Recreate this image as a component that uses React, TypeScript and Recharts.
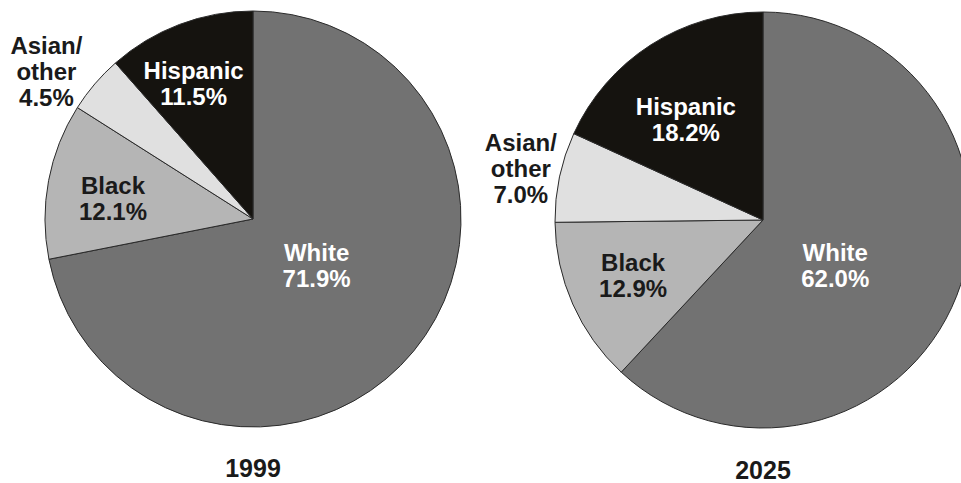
import React from 'react';
import { PieChart, Pie, Cell } from 'recharts';

// Population share by race/ethnicity, percent
const groups = ['White', 'Black', 'Asian/other', 'Hispanic'];
const share1999 = [71.9, 12.1, 4.5, 11.5];
const share2025 = [62.0, 12.9, 7.0, 18.2];
const years = ['1999', '2025'];

// How each group name wraps inside its label
const nameLines: Record<string, string[]> = {
  White: ['White'],
  Black: ['Black'],
  'Asian/other': ['Asian/', 'other'],
  Hispanic: ['Hispanic'],
};

const fills = ['#727272', '#b5b5b5', '#e0e0e0', '#15130f'];
const textFills = ['#ffffff', '#1a1a1a', '#1a1a1a', '#ffffff'];

// label distance (fraction of radius) and angle nudge (deg) per slice
const labelPos1999 = [[0.38, 3], [0.68, 2.5], [1.22, 5], [0.71, 3]];
const labelPos2025 = [[0.41, -10.6], [0.68, -0.5], [1.19, 0], [0.61, 4.7]];

const W = 961;
const H = 483;
const R = 208;
const FONT = '"Liberation Sans", Arial, Helvetica, sans-serif';
const RAD = Math.PI / 180;

const toRows = (vals: number[]) => groups.map((g, i) => ({ name: g, value: vals[i] }));

const makeLabel = (placement: number[][]) => (props: any) => {
  const { cx, cy, midAngle, outerRadius, index, value, name } = props;
  const [ratio, nudge] = placement[index];
  const a = (midAngle + nudge) * RAD;
  const r = outerRadius * ratio;
  const x = cx + r * Math.cos(-a);
  const y = cy + r * Math.sin(-a);
  const lines = [...nameLines[name], `${Number(value).toFixed(1)}%`];
  const fs = 24;
  const lh = 26;
  const y0 = y - ((lines.length - 1) * lh) / 2 + fs * 0.35;
  return (
    <text
      x={x}
      y={y0}
      textAnchor="middle"
      fill={textFills[index]}
      fontFamily={FONT}
      fontSize={fs}
      fontWeight="bold"
    >
      {lines.map((l, i) => (
        <tspan key={i} x={x} y={y0 + i * lh}>
          {l}
        </tspan>
      ))}
    </text>
  );
};

export default function App() {
  const pies = [
    { rows: toRows(share1999), cx: 253, cy: 219, place: labelPos1999 },
    { rows: toRows(share2025), cx: 763, cy: 220, place: labelPos2025 },
  ];
  return (
    <div style={{ position: 'absolute', left: 0, top: 0, width: W, height: H, background: '#fff' }}>
      <PieChart width={W} height={H} margin={{ top: 0, right: 0, bottom: 0, left: 0 }}>
        {pies.map((p, k) => (
          <Pie
            key={years[k]}
            data={p.rows}
            dataKey="value"
            nameKey="name"
            cx={p.cx}
            cy={p.cy}
            outerRadius={R}
            startAngle={90}
            endAngle={-270}
            stroke="#2a2a2a"
            strokeWidth={1}
            labelLine={false}
            label={makeLabel(p.place)}
            isAnimationActive={false}
          >
            {p.rows.map((row, i) => (
              <Cell key={row.name} fill={fills[i]} />
            ))}
          </Pie>
        ))}
        {pies.map((p, k) => (
          <text
            key={`t${k}`}
            x={p.cx}
            y={477 + k * 2}
            textAnchor="middle"
            fill="#1a1a1a"
            fontFamily={FONT}
            fontSize={25}
            fontWeight="bold"
          >
            {years[k]}
          </text>
        ))}
      </PieChart>
    </div>
  );
}
